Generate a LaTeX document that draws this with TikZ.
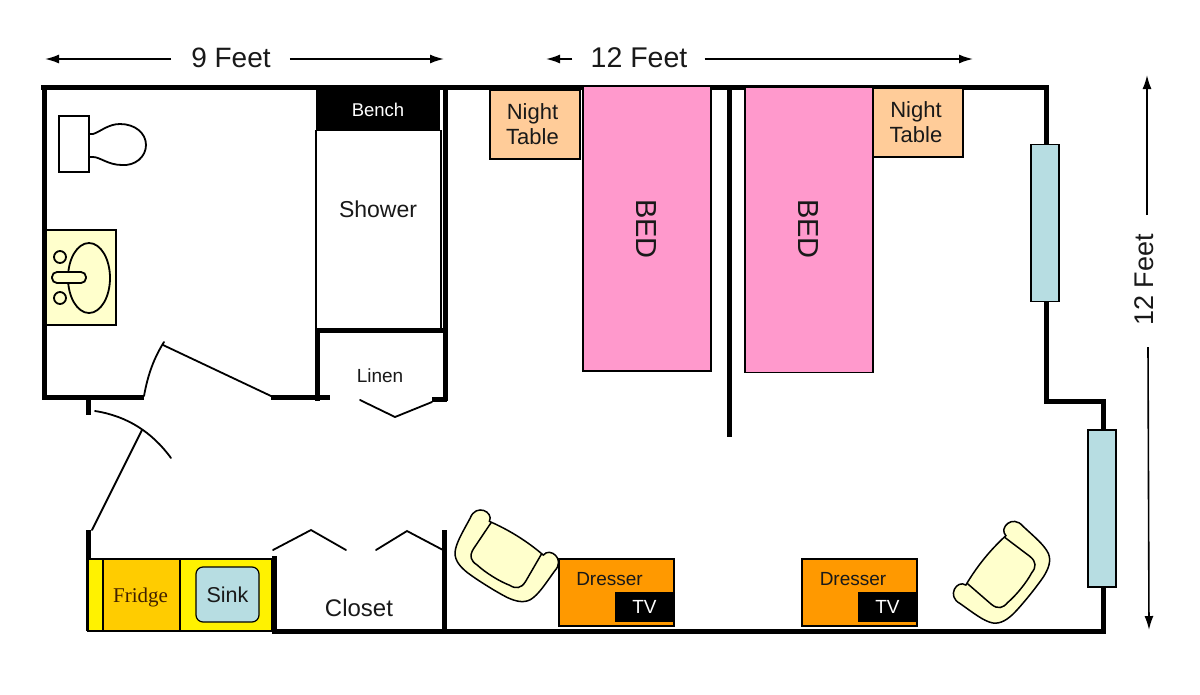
\documentclass[tikz,border=0pt]{standalone}
\usepackage{fontspec}
\setmainfont{Liberation Sans}
\newfontfamily\fridgefont{Liberation Serif}
\usepackage{tikz}
\usetikzlibrary{arrows.meta}
\definecolor{bedpink}{HTML}{FF99CC}
\definecolor{tablepeach}{HTML}{FFCC99}
\definecolor{dresserorange}{HTML}{FF9900}
\definecolor{fridgeorange}{HTML}{FFCC00}
\definecolor{glassblue}{HTML}{B7DDE2}
\definecolor{creamy}{HTML}{FFFFCC}
\newcommand{\fs}[1]{\fontsize{#1}{#1}\selectfont}
\tikzset{
  wall/.style       = {line width=5pt, line cap=butt, line join=miter},
  thinline/.style   = {line width=1.8pt, line cap=round},
  thinwall/.style   = {line width=2.2pt},
  furniture/.style  = {shape=rectangle, draw, line width=1.2pt, inner sep=0pt,
                       align=center},
  bed/.style        = {furniture, fill=bedpink, minimum width=128pt,
                       minimum height=285pt},
  nighttable/.style = {furniture, fill=tablepeach, minimum width=90pt,
                       minimum height=69pt},
  dresser/.style    = {furniture, fill=dresserorange, minimum width=115pt,
                       minimum height=67pt},
  tvset/.style      = {shape=rectangle, fill=black, text=white, inner sep=0pt,
                       minimum width=59pt, minimum height=30pt, font=\fs{19}},
  pane/.style       = {furniture, fill=glassblue, minimum width=28pt,
                       minimum height=157pt},
  label/.style      = {inner sep=0pt, font=\fs{#1}},
  dimension/.style  = {line width=1.6pt, -{Latex[length=14pt, width=9pt]}},
  chair/.pic        = {
    \draw [line width=1.5pt, fill=creamy]
      (-30,-22) .. controls (-31,-32) and (-50,-30) .. (-47,-15)
      .. controls (-46,0) and (-46,12) .. (-42,20)
      .. controls (-38,27) and (-30,29) .. (-22,30)
      .. controls (-10,31) and (10,31) .. (22,30)
      .. controls (30,29) and (38,27) .. (42,20)
      .. controls (46,12) and (46,0) .. (47,-15)
      .. controls (50,-30) and (31,-32) .. (30,-22)
      .. controls (10,-25) and (-10,-25) .. (-30,-22) -- cycle;
    \draw [line width=1.5pt]
      (-28,-22) -- (-29,8) .. controls (-29,16) and (-25,19) .. (-18,19)
      .. controls (-8,21) and (8,21) .. (18,19)
      .. controls (25,19) and (29,16) .. (29,8) -- (28,-22);
  }
}

\begin{document}
\begin{tikzpicture}
  [
    x = 1pt,
    y = -1pt,
    every node/.style = {text=black!90}
  ]
\useasboundingbox [fill=white] (0,0) rectangle (1200,694);

% outer walls
\draw [wall] (41,87) -- (1046,87) -- (1046,401) -- (1103,401) -- (1103,631) -- (272,631);
\draw [wall] (44,87) -- (44,397) -- (144,397);
\draw [wall] (88,397) -- (88,415);
\draw [wall] (271,397) -- (330,397);
\draw [wall] (445,87) -- (445,401);
\draw [wall] (317,328) -- (317,401);
\draw [wall] (315,330) -- (447,330);
\draw [wall] (432,399) -- (447,399);
\draw [wall] (88,530) -- (88,631);
\draw [wall] (274,556) -- (274,631);
\draw [wall] (444,530) -- (444,631);
\draw [wall] (729,87) -- (729,437);

% shower
\node (bench) [shape=rectangle, fill=black, text=white, inner sep=0pt,
               minimum width=124pt, minimum height=43pt, font=\fs{18.5}]
      at (378,109.5) {Bench};
\draw [thinwall] (316,130) -- (316,330);
\draw [thinwall] (441,130) -- (441,330);
\node (shower) [label=23] at (378,209) {Shower};

% toilet and basin
\draw [thinline, fill=white] (59,116) rectangle (89,172);
\draw [thinline]
  (89,134) -- (93,134) .. controls (100,132) and (108,124) .. (120,124)
  .. controls (135,124) and (146,133) .. (146,145)
  .. controls (146,157) and (135,166) .. (122,165)
  .. controls (108,165) and (100,157) .. (93,157) -- (89,157);
\node (basin) [furniture, fill=creamy, minimum width=70pt, minimum height=95pt]
      at (81,277.5) {};
\draw [thinline] (89,278) ellipse [x radius=21, y radius=35];
\draw [thinline, fill=creamy, rounded corners=5pt] (52,272) rectangle (86,283);
\draw [thinline] (60,257) circle [radius=6];
\draw [thinline] (60,298) circle [radius=6];

% doors
\draw [thinline] (144,396) .. controls (148,374) and (154,358) .. (164,342);
\draw [thinline] (163,345) -- (271,396);
\draw [thinline] (95,411) .. controls (127,416) and (152,432) .. (171,458);
\draw [thinline] (92,530) -- (142,430);
\draw [thinline] (360,400) -- (395,417) -- (432,402);
\draw [thinline] (273,550) -- (311,530) -- (346,550);
\draw [thinline] (376,550) -- (407,531) -- (443,550);
\node (linen) [label=19] at (380,376) {Linen};
\node (closet) [label=24] at (359,608) {Closet};

% kitchenette
\node (counter) [furniture, fill=yellow, minimum width=184pt, minimum height=72pt]
      at (180,595) {};
\node (fridge) [furniture, fill=fridgeorange, minimum width=77pt, minimum height=72pt]
      at (141.5,595) {};
\node [font=\fridgefont\fs{21}, text=black!75!orange, inner sep=0pt]
      at (140.5,597) {Fridge};
\node (sink) [furniture, fill=glassblue, rounded corners=7pt, minimum width=63pt,
              minimum height=55pt, font=\fs{21.5}]
      at (227.5,594.5) {Sink};

% beds
\node (bedleft)  [bed] at (647,228.5) {};
\node (bedright) [bed] at (809,230) {};
\node [label=29, rotate=-90] at (646,229) {BED};
\node [label=29, rotate=-90] at (808,229) {BED};
\node (tableleft)  [nighttable] at (535,124.5) {};
\node (tableright) [nighttable] at (918,122.5) {};
\node [label=22, align=center] at (532.5,124.5) {Night\\[3pt]Table};
\node [label=22, align=center] at (916,122.5) {Night\\[3pt]Table};

% windows
\node (paneupper) [pane] at (1045,223) {};
\node (panelower) [pane] at (1102,508.5) {};

% dressers
\node (dresserleft)  [dresser] at (616.5,592.5) {};
\node (dresserright) [dresser] at (859.5,592.5) {};
\node (tvleft)  [tvset] at (644.5,607) {TV};
\node (tvright) [tvset] at (887.5,607) {TV};
\node [label=19] at (609.5,579) {Dresser};
\node [label=19] at (853,579) {Dresser};

% chairs
\pic [rotate=-32, scale=1.06] at (504,558) {chair};
\pic [rotate=51, scale=1.06] at (1004,575) {chair};

% dimensions
\node (nine)   [label=28] at (231,58) {9 Feet};
\node (twelve) [label=28.5] at (639,58) {12 Feet};
\node (side)   [label=27, rotate=90] at (1144,280) {12 Feet};
\coordinate (nineleft)    at (45,59);
\coordinate (nineright)   at (444,59);
\coordinate (twelveleft)  at (546,59);
\coordinate (twelveright) at (973,59);
\coordinate (sidetop)     at (1147,75);
\coordinate (sidebottom)  at (1149,630);
\draw [dimension] (nine.west)   ++(-20,1) -- (nineleft);
\draw [dimension] (nine.east)   ++(19,1)  -- (nineright);
\draw [dimension] (twelve.west) ++(-18,1) -- (twelveleft);
\draw [dimension] (twelve.east) ++(17,1)  -- (twelveright);
\draw [dimension] (1147,215) -- (sidetop);
\draw [dimension] (1148,347) -- (sidebottom);
\end{tikzpicture}
\end{document}
